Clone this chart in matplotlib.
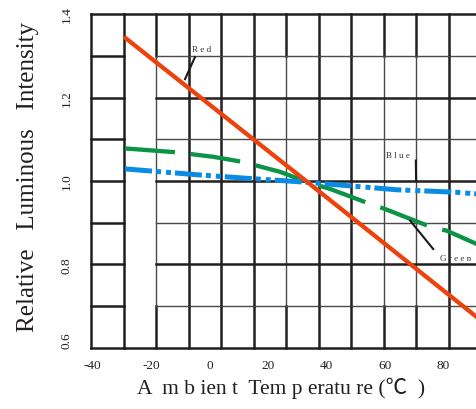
import numpy as np
import matplotlib
matplotlib.use('Agg')
import matplotlib.pyplot as plt

# curves: temperature (C) -> relative luminous intensity
red_t = [-28.7, 33.0, 91.4]
red_v = [1.342, 1.0, 0.674]

green_t = [-28.9, -11.8, 1.2, 11.1, 24.1, 33.2, 41.2, 54.2, 60.0, 76.0, 81.1, 91.4]
green_v = [1.078, 1.069, 1.058, 1.046, 1.022, 0.998, 0.981, 0.947, 0.933, 0.889, 0.881, 0.849]

blue_t = [-28.9, -4.4, 12.7, 33.2, 46.9, 64.0, 84.5, 91.4]
blue_v = [1.029, 1.015, 1.0065, 0.997, 0.989, 0.979, 0.973, 0.969]

x_ticks = [-40, -20, 0, 20, 40, 60, 80]
y_ticks = [0.6, 0.8, 1.0, 1.2, 1.4]

serif = ['Liberation Serif', 'Noto Sans CJK SC', 'DejaVu Sans']
plt.rcParams['font.family'] = serif

fig = plt.figure(figsize=(4.77, 4.10), dpi=100)
ax = fig.add_axes([0.1908, 0.1488, 0.8365, 0.8146])
ax.set_xlim(-40.57, 95.93)
ax.set_ylim(0.6, 1.4)
for s in ax.spines.values():
    s.set_visible(False)

# the odd scanned grid: thick outer frame, thinner inner cells, blank column
thick = dict(color='#231f20', lw=1.8, clip_on=False, zorder=1, solid_capstyle='projecting')
thin = dict(color='#4a4a4a', lw=1.0, clip_on=False, zorder=1)
cols = -40.57 + 11.12 * np.arange(13)
rows = np.round(np.arange(0.6, 1.41, 0.1), 1)
x_end = cols[-1] + 5
thin_cols = {2, 6, 9, 10}
for k, x in enumerate(cols):
    if k < 2:
        ax.plot([x, x], [0.6, 1.4], **thick)
        continue
    ax.plot([x, x], [1.3, 1.4], **thick)
    ax.plot([x, x], [0.6, 0.7], **thick)
    ax.plot([x, x], [0.7, 1.3], **(thin if k in thin_cols else thick))
for r in rows:
    ax.plot([cols[0], cols[1]], [r, r], **thick)
    if r in (0.6, 1.4):
        ax.plot([cols[1], x_end], [r, r], **thick)
    elif r in (0.8, 1.0, 1.2):
        ax.plot([cols[2], x_end], [r, r], **thick)
    else:
        ax.plot([cols[2], x_end], [r, r], **thin)

ax.plot(green_t, green_v, color='#0b9446', lw=3.1, ls=(0, (11.6, 3.7)), zorder=3)
ax.plot(blue_t, blue_v, color='#0a8ce4', lw=3.6,
        ls=(0, (5.4, 0.8, 1.0, 1.0, 1.0, 0.8)), zorder=4)
ax.plot(red_t, red_v, color='#ee420c', lw=3.1, zorder=5)

# curve labels with short leader lines
labels = [('R e d', (-6.0, 1.316), (-5.0, 1.297), (-8.4, 1.244)),
          ('B l u e', (60.3, 1.062), (70.55, 1.049), (70.65, 1.0)),
          ('G r e e n', (78.8, 0.816), (68.6, 0.905), (76.5, 0.837))]
for txt, pos, p0, p1 in labels:
    ax.text(pos[0], pos[1], txt, fontsize=6.5, color='#333333', ha='left', va='center',
            clip_on=False, zorder=6)
    ax.plot([p0[0], p1[0]], [p0[1], p1[1]], color='#1a1a1a', lw=1.5, zorder=6, clip_on=False)

ax.set_xticks(x_ticks, [str(t) for t in x_ticks])
ax.set_yticks(y_ticks, ['%.1f' % v for v in y_ticks])
ax.tick_params(axis='x', length=0, pad=8, labelsize=9.5, colors='#231f20')
ax.tick_params(axis='y', length=0, pad=13, labelsize=9.5, colors='#231f20', labelrotation=90)
for lab in ax.get_yticklabels():
    lab.set_va('center')
ax.get_yticklabels()[0].set_va('bottom')

fig.text(28 / 477, 1 - 177.5 / 410, 'Relative   Luminous   Intensity', rotation=90,
         ha='center', va='center', fontsize=18, color='#231f20')
fig.text(281 / 477, 1 - 388 / 410, 'A  m b ien t  Tem p eratu re (\u2103  )',
         ha='center', va='center', fontsize=15.5, color='#231f20')

fig.savefig('out.png', dpi=100)
